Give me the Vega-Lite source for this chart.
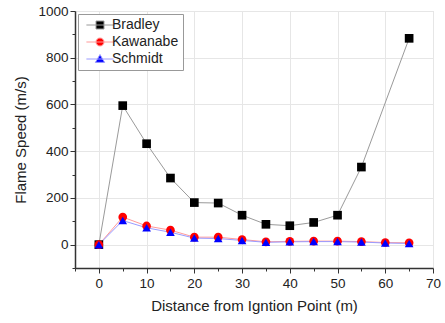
{
  "$schema": "https://vega.github.io/schema/vega-lite/v6.json",
  "width": 358,
  "height": 257,
  "autosize": "none",
  "padding": {"left": 75, "top": 11, "right": 12, "bottom": 55},
  "background": "white",
  "config": {
    "view": {"stroke": "#d8d8d8", "strokeWidth": 1},
    "font": "Liberation Sans",
    "axis": {
      "domainColor": "#333", "domainWidth": 1.5,
      "tickColor": "#333", "tickWidth": 1,
      "labelFont": "Liberation Sans", "labelFontSize": 13.5, "labelColor": "#222",
      "titleFont": "Liberation Sans", "titleFontSize": 15, "titleFontWeight": "normal", "titleColor": "#222",
      "gridColor": "#e6e6e6", "gridWidth": 1
    }
  },
  "data": {"values": [
    {"series": "Bradley", "x": 0, "y": 0},
    {"series": "Bradley", "x": 5, "y": 595},
    {"series": "Bradley", "x": 10, "y": 432},
    {"series": "Bradley", "x": 15, "y": 285},
    {"series": "Bradley", "x": 20, "y": 180},
    {"series": "Bradley", "x": 25, "y": 178},
    {"series": "Bradley", "x": 30, "y": 126},
    {"series": "Bradley", "x": 35, "y": 87},
    {"series": "Bradley", "x": 40, "y": 81},
    {"series": "Bradley", "x": 45, "y": 95},
    {"series": "Bradley", "x": 50, "y": 126},
    {"series": "Bradley", "x": 55, "y": 332},
    {"series": "Bradley", "x": 65, "y": 883},
    {"series": "Kawanabe", "x": 0, "y": 0},
    {"series": "Kawanabe", "x": 5, "y": 118},
    {"series": "Kawanabe", "x": 10, "y": 80},
    {"series": "Kawanabe", "x": 15, "y": 62},
    {"series": "Kawanabe", "x": 20, "y": 32},
    {"series": "Kawanabe", "x": 25, "y": 32},
    {"series": "Kawanabe", "x": 30, "y": 22},
    {"series": "Kawanabe", "x": 35, "y": 12},
    {"series": "Kawanabe", "x": 40, "y": 14},
    {"series": "Kawanabe", "x": 45, "y": 15},
    {"series": "Kawanabe", "x": 50, "y": 15},
    {"series": "Kawanabe", "x": 55, "y": 13},
    {"series": "Kawanabe", "x": 60, "y": 9},
    {"series": "Kawanabe", "x": 65, "y": 8},
    {"series": "Schmidt", "x": 0, "y": 0},
    {"series": "Schmidt", "x": 5, "y": 103},
    {"series": "Schmidt", "x": 10, "y": 72},
    {"series": "Schmidt", "x": 15, "y": 53},
    {"series": "Schmidt", "x": 20, "y": 28},
    {"series": "Schmidt", "x": 25, "y": 26},
    {"series": "Schmidt", "x": 30, "y": 18},
    {"series": "Schmidt", "x": 35, "y": 10},
    {"series": "Schmidt", "x": 40, "y": 12},
    {"series": "Schmidt", "x": 45, "y": 13},
    {"series": "Schmidt", "x": 50, "y": 13},
    {"series": "Schmidt", "x": 55, "y": 11},
    {"series": "Schmidt", "x": 60, "y": 7},
    {"series": "Schmidt", "x": 65, "y": 5}
  ]},
  "encoding": {
    "x": {
      "field": "x", "type": "quantitative",
      "scale": {"domain": [-5, 70], "nice": false, "zero": false},
      "axis": {
        "title": "Distance from Igntion Point (m)",
        "values": [-5, 0, 5, 10, 15, 20, 25, 30, 35, 40, 45, 50, 55, 60, 65, 70],
        "labelExpr": "datum.value % 10 == 0 ? datum.label : ''",
        "tickSize": {"condition": {"test": "datum.value % 10 == 0", "value": 5}, "value": 3},
        "gridOpacity": {"condition": {"test": "datum.value % 10 == 0", "value": 1}, "value": 0},
        "labelPadding": 3,
        "titlePadding": 9,
        "labelFlush": false
      }
    },
    "y": {
      "field": "y", "type": "quantitative",
      "scale": {"domain": [-100, 1000], "nice": false, "zero": false},
      "axis": {
        "title": "Flame Speed (m/s)",
        "values": [-100, 0, 100, 200, 300, 400, 500, 600, 700, 800, 900, 1000],
        "labelExpr": "datum.value % 200 == 0 ? datum.label : ''",
        "format": "d",
        "tickSize": {"condition": {"test": "datum.value % 200 == 0", "value": 5}, "value": 3},
        "gridOpacity": {"condition": {"test": "datum.value % 200 == 0", "value": 1}, "value": 0},
        "labelPadding": 2,
        "titlePadding": 9,
        "labelFlush": false
      }
    }
  },
  "resolve": {
    "scale": {"color": "independent", "shape": "independent", "stroke": "independent"},
    "legend": {"color": "independent", "shape": "independent", "stroke": "independent"}
  },
  "layer": [
    {
      "mark": {"type": "line", "strokeWidth": 1},
      "encoding": {
        "color": {
          "field": "series", "type": "nominal",
          "scale": {"domain": ["Bradley", "Kawanabe", "Schmidt"], "range": ["#9a9a9a", "#ff9a9a", "#9a9aff"]},
          "legend": null
        }
      }
    },
    {
      "mark": {"type": "point", "filled": true, "opacity": 1, "size": 75},
      "encoding": {
        "color": {
          "field": "series", "type": "nominal",
          "scale": {"domain": ["Bradley", "Kawanabe", "Schmidt"], "range": ["#000000", "#ff0000", "#0000ff"]},
          "legend": null
        },
        "shape": {
          "field": "series", "type": "nominal",
          "scale": {"domain": ["Bradley", "Kawanabe", "Schmidt"], "range": ["square", "circle", "triangle-up"]},
          "legend": null
        }
      }
    },
    {
      "transform": [{"filter": "datum.x < -1000"}],
      "mark": {"type": "point", "filled": true, "opacity": 1, "strokeWidth": 1},
      "encoding": {
        "color": {
          "field": "series", "type": "nominal",
          "scale": {"domain": ["Bradley", "Kawanabe", "Schmidt"], "range": ["#000000", "#ff0000", "#0000ff"]},
          "legend": {
            "title": null,
            "orient": "top-left",
            "offset": 3,
            "strokeColor": "#999",
            "fillColor": "white",
            "padding": 4,
            "labelFont": "Liberation Sans",
            "labelFontSize": 14,
            "labelColor": "#222",
            "rowPadding": 3,
            "symbolSize": 64,
            "symbolOffset": 11,
            "symbolStrokeWidth": 1,
            "labelOffset": 5
          }
        },
        "stroke": {
          "field": "series", "type": "nominal",
          "scale": {"domain": ["Bradley", "Kawanabe", "Schmidt"], "range": ["#9a9a9a", "#ff9a9a", "#9a9aff"]}
        },
        "shape": {
          "field": "series", "type": "nominal",
          "scale": {"domain": ["Bradley", "Kawanabe", "Schmidt"], "range": ["M-3.4,0H3.4M-1,-1H1V1H-1Z", "M-3.4,0H3.4M1,0A1,1 0 1,1 -1,0A1,1 0 1,1 1,0Z", "M-3.4,0H3.4M0,-1.1L1.15,0.85H-1.15Z"]}
        }
      }
    }
  ]
}
